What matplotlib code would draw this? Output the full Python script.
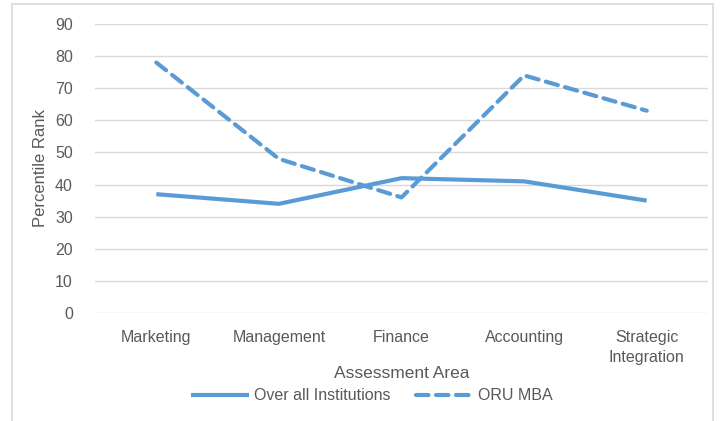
import matplotlib.pyplot as plt
import numpy as np
from matplotlib.patches import Rectangle

areas = ["Marketing", "Management", "Finance", "Accounting", "Strategic\nIntegration"]
overall = [37, 34, 42, 41, 35]
oru_mba = [78, 48, 36, 74, 63]

blue = "#5B9BD5"
grey_text = "#595959"

plt.rcParams['font.family'] = ['Liberation Sans', 'DejaVu Sans']

fig = plt.figure(figsize=(7.2, 4.21), dpi=100)
ax = fig.add_axes([95 / 720, 1 - 313 / 421, 613 / 720, 289 / 421])

x = np.arange(len(areas))
ax.plot(x, overall, color=blue, lw=3.0, solid_capstyle='butt', label="Over all Institutions")
ax.plot(x, oru_mba, color=blue, lw=3.0, ls=(0, (3.0, 1.8)), dash_capstyle='round',
        label="ORU MBA")

ax.set_xlim(-0.5, len(areas) - 0.5)
ax.set_ylim(0, 90)
ax.set_yticks(np.arange(0, 91, 10))
ax.set_xticks(x)
ax.set_xticklabels(areas, linespacing=1.45)
ax.grid(axis='y', color="#D9D9D9", lw=1)
ax.set_axisbelow(True)
for s in ax.spines.values():
    s.set_visible(False)
ax.tick_params(length=0, colors=grey_text, labelsize=11.5)
ax.tick_params(axis='x', pad=12)
ax.tick_params(axis='y', pad=16)
ax.set_ylabel("Percentile Rank", color=grey_text, fontsize=12, labelpad=5)
ax.set_xlabel("Assessment Area", color=grey_text, fontsize=12.5, labelpad=1)

leg = fig.legend(loc='center', bbox_to_anchor=(372 / 720, 1 - 396 / 421), ncol=2,
                 frameon=False, fontsize=11.5, handlelength=3.6, columnspacing=1.6,
                 handletextpad=0.3)
for t in leg.get_texts():
    t.set_color(grey_text)

fig.patches.append(Rectangle((12 / 720, -0.05), 701 / 720, 1.05 - 4 / 421,
                             transform=fig.transFigure, fill=False,
                             edgecolor="#D9D9D9", lw=1.2))

fig.savefig("out.png", dpi=100)
